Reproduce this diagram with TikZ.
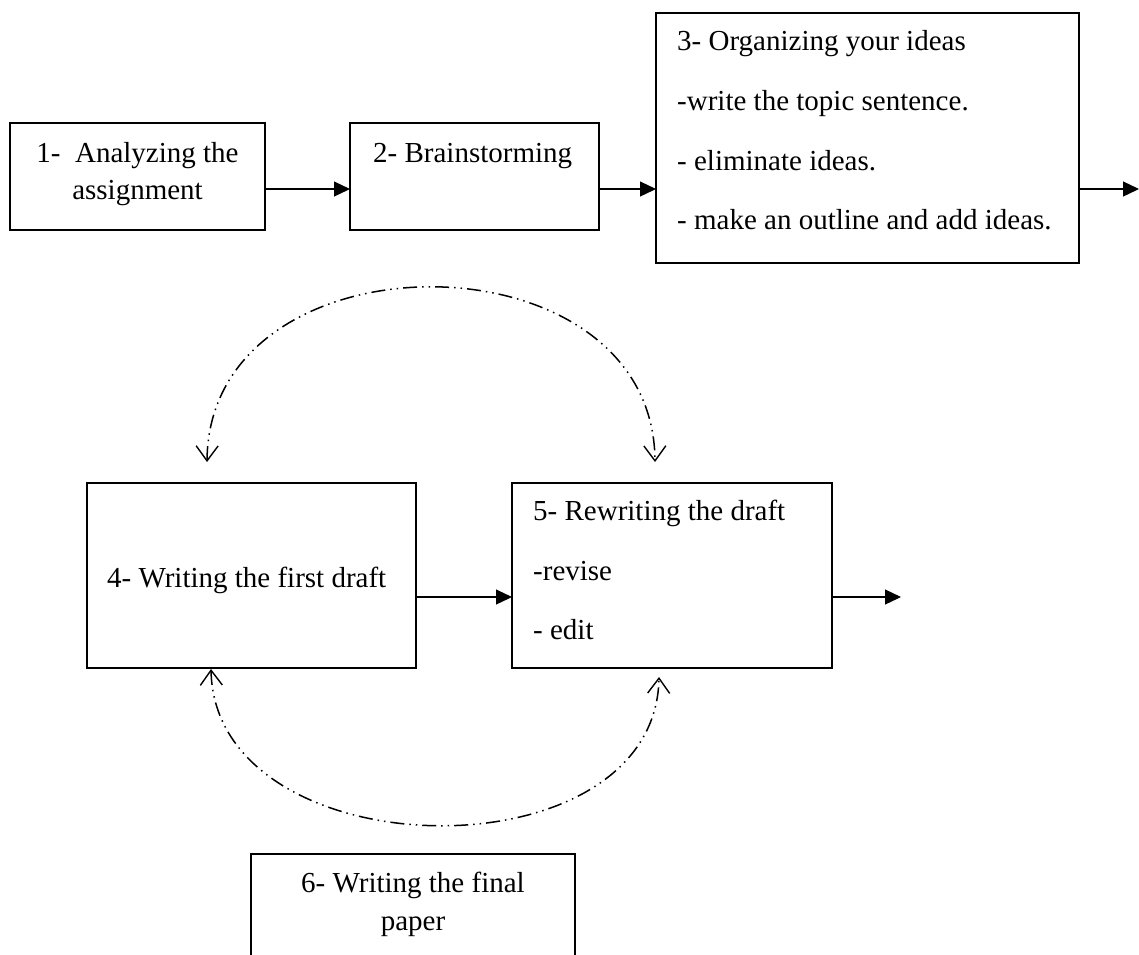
\documentclass[tikz,border=0pt]{standalone}
\usepackage{fontspec}
\setmainfont{Liberation Serif}
\usetikzlibrary{arrows.meta}
\begin{document}
\begin{tikzpicture}[x=1pt,y=-1pt,
  box/.style={draw, line width=1.3pt, rectangle, inner sep=0pt, outer sep=0pt},
  lt/.style={anchor=base west, inner sep=0pt, font=\fontsize{29}{37}\selectfont},
  ct/.style={anchor=base, inner sep=0pt, font=\fontsize{29}{37}\selectfont},
  arr/.style={line width=1.2pt, -{Triangle[length=16pt,width=15pt]}},
  ddarc/.style={line width=1.5pt, dash pattern=on 14pt off 5pt on 1.5pt off 5pt on 1.5pt off 5pt,
    {Straight Barb[length=15pt,width=22pt,line width=1.4pt]}-{Straight Barb[length=15pt,width=22pt,line width=1.4pt]}}]
\clip (0,0) rectangle (1139,954);
\fill[white] (0,0) rectangle (1139,954);

% boxes
\node[box, minimum width=255pt, minimum height=107pt] (b1) at (137.5,176.5) {};
\node[box, minimum width=249pt, minimum height=107pt] (b2) at (474.5,176.5) {};
\node[box, minimum width=423pt, minimum height=250pt] (b3) at (867.5,138) {};
\node[box, minimum width=329pt, minimum height=185pt] (b4) at (251.5,575.5) {};
\node[box, minimum width=320pt, minimum height=185pt] (b5) at (672,575.5) {};
\node[box, minimum width=324pt, minimum height=146pt] (b6) at (413,927) {};

% texts
\node[ct] (t1a) at (137.5,162) {1-\ \ Analyzing the};
\node[ct] (t1b) at (137.5,199) {assignment};
\node[lt] (t2) at (373,162) {2- Brainstorming};
\node[lt] (t3a) at (677,50) {3- Organizing your ideas};
\node[lt] (t3b) at (677,110) {-write the topic sentence.};
\node[lt] (t3c) at (677,170) {- eliminate ideas.};
\node[lt] (t3d) at (677,229) {- make an outline and add ideas.};
\node[lt] (t4) at (107,587) {4- Writing the first draft};
\node[lt] (t5a) at (533,520) {5- Rewriting the draft};
\node[lt] (t5b) at (533,580) {-revise};
\node[lt] (t5c) at (533,639) {- edit};
\node[ct] (t6a) at (413,892) {6- Writing the final};
\node[ct] (t6b) at (413,930) {paper};

% solid connectors
\coordinate (r1) at (0,189);
\coordinate (e3) at (1139,189);
\coordinate (r2) at (0,597);
\coordinate (e5) at (901,597);
\draw[arr] (b1.east |- r1) -- (b2.west |- r1);
\draw[arr] (b2.east |- r1) -- (b3.west |- r1);
\draw[arr] (b3.east |- r1) -- (e3);
\draw[arr] (b4.east |- r2) -- (b5.west |- r2);
\draw[arr] (b5.east |- r2) -- (e5);

% dash-dot-dot loops
\coordinate (u4) at (207,462);
\coordinate (u5) at (655,462);
\coordinate (d4) at (211,669);
\coordinate (d5) at (659,677);
\draw[ddarc] (u4) .. controls (209,229) and (653,229) .. (u5);
\draw[ddarc] (d4) .. controls (215,872) and (655,880) .. (d5);
\end{tikzpicture}
\end{document}
